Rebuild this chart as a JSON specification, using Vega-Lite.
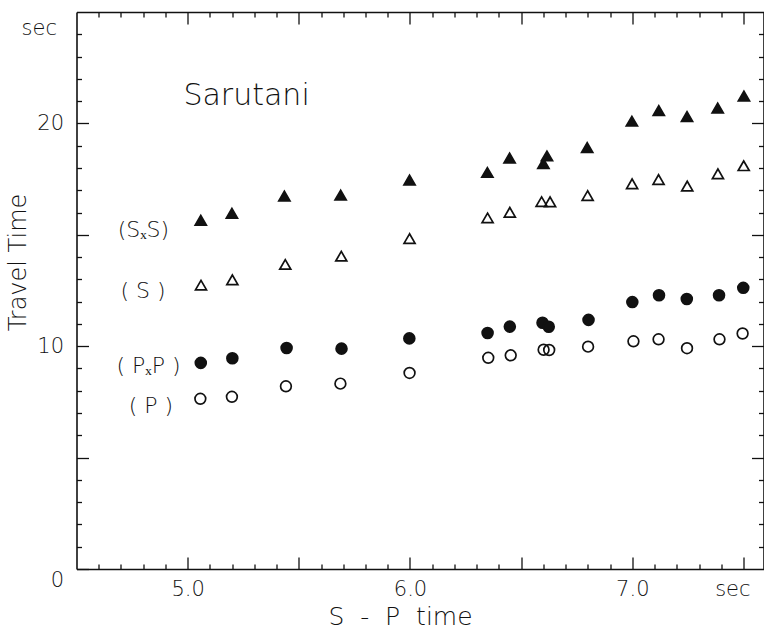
{
  "$schema": "https://vega.github.io/schema/vega-lite/v6.json",
  "width": 687,
  "height": 557,
  "autosize": {"type": "none"},
  "padding": {"left": 76.5, "top": 12, "right": 0.5, "bottom": 60},
  "background": "white",
  "config": {
    "view": {"stroke": null},
    "font": "DejaVu Sans",
    "axis": {
      "grid": false,
      "domainColor": "#111",
      "domainWidth": 1.6,
      "tickColor": "#111",
      "tickWidth": 1.3,
      "labelColor": "#111",
      "titleColor": "#111",
      "labelFont": "DejaVu Sans",
      "titleFont": "DejaVu Sans",
      "labelFontWeight": 200,
      "titleFontWeight": 200,
      "labelOverlap": false,
      "labelBound": false,
      "labelFlush": false
    }
  },
  "datasets": {
    "obs": [
      {"phase": "SxS", "sp": 5.059, "tt": 15.65},
      {"phase": "SxS", "sp": 5.199, "tt": 15.97},
      {"phase": "SxS", "sp": 5.435, "tt": 16.74},
      {"phase": "SxS", "sp": 5.688, "tt": 16.78},
      {"phase": "SxS", "sp": 5.998, "tt": 17.46},
      {"phase": "SxS", "sp": 6.348, "tt": 17.80},
      {"phase": "SxS", "sp": 6.448, "tt": 18.45},
      {"phase": "SxS", "sp": 6.616, "tt": 18.54},
      {"phase": "SxS", "sp": 6.600, "tt": 18.20},
      {"phase": "SxS", "sp": 6.797, "tt": 18.92},
      {"phase": "SxS", "sp": 6.998, "tt": 20.10},
      {"phase": "SxS", "sp": 7.119, "tt": 20.58},
      {"phase": "SxS", "sp": 7.246, "tt": 20.31},
      {"phase": "SxS", "sp": 7.384, "tt": 20.69},
      {"phase": "SxS", "sp": 7.502, "tt": 21.23},
      {"phase": "S", "sp": 5.060, "tt": 12.74},
      {"phase": "S", "sp": 5.201, "tt": 12.98},
      {"phase": "S", "sp": 5.439, "tt": 13.67},
      {"phase": "S", "sp": 5.691, "tt": 14.04},
      {"phase": "S", "sp": 5.998, "tt": 14.83},
      {"phase": "S", "sp": 6.349, "tt": 15.76},
      {"phase": "S", "sp": 6.449, "tt": 16.01},
      {"phase": "S", "sp": 6.592, "tt": 16.49},
      {"phase": "S", "sp": 6.630, "tt": 16.48},
      {"phase": "S", "sp": 6.799, "tt": 16.76},
      {"phase": "S", "sp": 6.999, "tt": 17.29},
      {"phase": "S", "sp": 7.118, "tt": 17.48},
      {"phase": "S", "sp": 7.247, "tt": 17.19},
      {"phase": "S", "sp": 7.385, "tt": 17.74},
      {"phase": "S", "sp": 7.501, "tt": 18.10},
      {"phase": "PxP", "sp": 5.059, "tt": 9.25},
      {"phase": "PxP", "sp": 5.201, "tt": 9.46},
      {"phase": "PxP", "sp": 5.445, "tt": 9.92},
      {"phase": "PxP", "sp": 5.692, "tt": 9.89},
      {"phase": "PxP", "sp": 5.997, "tt": 10.35},
      {"phase": "PxP", "sp": 6.349, "tt": 10.59},
      {"phase": "PxP", "sp": 6.449, "tt": 10.88},
      {"phase": "PxP", "sp": 6.596, "tt": 11.05},
      {"phase": "PxP", "sp": 6.624, "tt": 10.87},
      {"phase": "PxP", "sp": 6.803, "tt": 11.18},
      {"phase": "PxP", "sp": 7.000, "tt": 11.98},
      {"phase": "PxP", "sp": 7.120, "tt": 12.29},
      {"phase": "PxP", "sp": 7.245, "tt": 12.12},
      {"phase": "PxP", "sp": 7.390, "tt": 12.29},
      {"phase": "PxP", "sp": 7.499, "tt": 12.62},
      {"phase": "P", "sp": 5.057, "tt": 7.64},
      {"phase": "P", "sp": 5.199, "tt": 7.73},
      {"phase": "P", "sp": 5.442, "tt": 8.20},
      {"phase": "P", "sp": 5.687, "tt": 8.32},
      {"phase": "P", "sp": 5.998, "tt": 8.80},
      {"phase": "P", "sp": 6.352, "tt": 9.48},
      {"phase": "P", "sp": 6.453, "tt": 9.59},
      {"phase": "P", "sp": 6.601, "tt": 9.84},
      {"phase": "P", "sp": 6.626, "tt": 9.83},
      {"phase": "P", "sp": 6.801, "tt": 9.98},
      {"phase": "P", "sp": 7.005, "tt": 10.22},
      {"phase": "P", "sp": 7.118, "tt": 10.31},
      {"phase": "P", "sp": 7.246, "tt": 9.91},
      {"phase": "P", "sp": 7.392, "tt": 10.31},
      {"phase": "P", "sp": 7.496, "tt": 10.57}
    ],
    "notes": [
      {"kind": "series", "label": "(SₓS)", "sp": 4.801, "tt": 14.89},
      {"kind": "series", "label": "( S )", "sp": 4.799, "tt": 12.16},
      {"kind": "series", "label": "( PₓP )", "sp": 4.824, "tt": 8.78},
      {"kind": "series", "label": "( P )", "sp": 4.835, "tt": 7.02},
      {"kind": "site", "label": "Sarutani", "sp": 5.265, "tt": 20.83}
    ]
  },
  "resolve": {"axis": {"x": "independent", "y": "independent"}},
  "layer": [
    {
      "data": {"name": "obs"},
      "mark": {"type": "point", "filled": true, "opacity": 1, "strokeWidth": 1.7},
      "encoding": {
        "x": {
          "field": "sp",
          "type": "quantitative",
          "scale": {"domain": [4.5, 7.59], "nice": false, "zero": false},
          "axis": {
            "orient": "bottom",
            "values": [4.6, 4.7, 4.8, 4.9, 5, 5.1, 5.2, 5.3, 5.4, 5.5, 5.6, 5.7, 5.8, 5.9, 6, 6.1, 6.2, 6.3, 6.4, 6.5, 6.6, 6.7, 6.8, 6.9, 7, 7.1, 7.2, 7.3, 7.4, 7.5, 7.45],
            "tickSize": {"condition": {"test": "abs(datum.value*2 - round(datum.value*2)) < 0.001 || abs(datum.value - 7.45) < 0.001", "value": -12}, "value": -5},
            "tickOpacity": {"condition": {"test": "abs(datum.value - 7.45) < 0.001", "value": 0}, "value": 1},
            "labelExpr": "abs(datum.value-5)<0.001 ? '5.0' : abs(datum.value-6)<0.001 ? '6.0' : abs(datum.value-7)<0.001 ? '7.0' : abs(datum.value-7.45)<0.001 ? 'sec' : ''",
            "labelPadding": 21,
            "labelFontSize": 21,
            "labelAlign": "center",
            "labelBaseline": "top",
            "title": "S\u00a0\u00a0-\u00a0\u00a0P\u00a0\u00a0time",
            "titleFontSize": 25,
            "titleX": 323.5,
            "titleY": 55,
            "titleAlign": "center",
            "titleBaseline": "alphabetic",
            "titleAngle": 0
          }
        },
        "y": {
          "field": "tt",
          "type": "quantitative",
          "scale": {"domain": [0, 25], "nice": false, "zero": false},
          "axis": {
            "orient": "left",
            "values": [0, 1, 2, 3, 4, 5, 6, 7, 8, 9, 10, 11, 12, 13, 14, 15, 16, 17, 18, 19, 20, 21, 22, 23, 24, 24.25],
            "tickSize": {"condition": {"test": "datum.value % 5 == 0", "value": -12}, "value": -5},
            "tickOpacity": {"condition": {"test": "datum.value == 24.25", "value": 0}, "value": 1},
            "labelExpr": "datum.value==0 ? '0' : datum.value==10 ? '10' : datum.value==20 ? '20' : datum.value==24.25 ? 'sec' : ''",
            "labelBaseline": {"condition": {"test": "datum.value == 0", "value": "top"}, "value": "middle"},
            "labelAlign": "right",
            "labelPadding": 25,
            "labelFontSize": 21,
            "title": "Travel Time",
            "titleFontSize": 24,
            "titleAngle": -90,
            "titleX": -51.5,
            "titleY": 250,
            "titleAlign": "center",
            "titleBaseline": "alphabetic"
          }
        },
        "shape": {"field": "phase", "type": "nominal", "scale": {"domain": ["SxS", "S", "PxP", "P"], "range": ["triangle-up", "triangle-up", "circle", "circle"]}, "legend": null},
        "fill": {"field": "phase", "type": "nominal", "scale": {"domain": ["SxS", "S", "PxP", "P"], "range": ["#111111", "transparent", "#111111", "transparent"]}, "legend": null},
        "size": {"field": "phase", "type": "nominal", "scale": {"domain": ["SxS", "S", "PxP", "P"], "range": [125, 115, 90, 80]}, "legend": null},
        "stroke": {"value": "#111111"}
      }
    },
    {
      "data": {"name": "notes"},
      "transform": [{"filter": "datum.kind == 'series'"}],
      "mark": {"type": "text", "font": "DejaVu Sans", "fontWeight": 200, "fontSize": 22, "align": "center", "baseline": "alphabetic", "color": "#111111"},
      "encoding": {
        "x": {"field": "sp", "type": "quantitative", "axis": null},
        "y": {"field": "tt", "type": "quantitative", "axis": null},
        "text": {"field": "label"}
      }
    },
    {
      "data": {"name": "notes"},
      "transform": [{"filter": "datum.kind == 'site'"}],
      "mark": {"type": "text", "font": "DejaVu Sans", "fontWeight": 200, "fontSize": 30, "align": "center", "baseline": "alphabetic", "color": "#111111"},
      "encoding": {
        "x": {
          "field": "sp",
          "type": "quantitative",
          "axis": {
            "orient": "top",
            "values": [4.6, 4.7, 4.8, 4.9, 5, 5.1, 5.2, 5.3, 5.4, 5.5, 5.6, 5.7, 5.8, 5.9, 6, 6.1, 6.2, 6.3, 6.4, 6.5, 6.6, 6.7, 6.8, 6.9, 7, 7.1, 7.2, 7.3, 7.4, 7.5],
            "tickSize": {"condition": {"test": "abs(datum.value*2 - round(datum.value*2)) < 0.001", "value": -12}, "value": -5},
            "labels": false,
            "title": null
          }
        },
        "y": {
          "field": "tt",
          "type": "quantitative",
          "axis": {
            "orient": "right",
            "values": [1, 2, 3, 4, 5, 6, 7, 8, 9, 10, 11, 12, 13, 14, 15, 16, 17, 18, 19, 20, 21, 22, 23, 24],
            "tickSize": {"condition": {"test": "datum.value % 5 == 0", "value": -12}, "value": -5},
            "labels": false,
            "title": null
          }
        },
        "text": {"field": "label"}
      }
    }
  ]
}
